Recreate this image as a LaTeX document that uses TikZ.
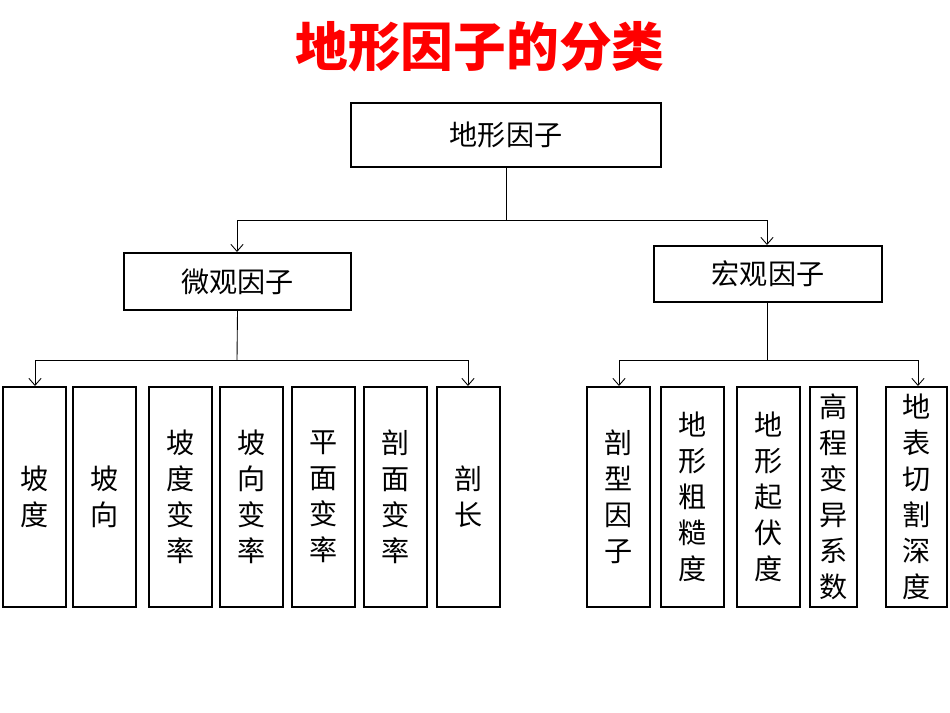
\documentclass[tikz,border=0pt]{standalone}
\usepackage{fontspec}
\newfontfamily\cjk{Noto Sans CJK SC}
\usetikzlibrary{arrows.meta}
\begin{document}
\begin{tikzpicture}[x=0.02cm,y=-0.02cm,
 box/.style={draw,line width=1.3pt,inner sep=0pt,font=\cjk\fontsize{16}{16}\selectfont},
 leaf/.style={draw,line width=1.3pt,inner sep=0pt,align=center,font=\cjk\fontsize{16}{20.5}\selectfont},
 con/.style={line width=0.5pt},
 arr/.style={con,-{Straight Barb[length=4pt,width=7pt]}}]
\useasboundingbox (0,0) rectangle (950,713);
\node[font=\cjk\bfseries\fontsize{30}{30}\selectfont,text=red] (title) at (480,47) {地形因子的分类};
\newcommand\bx[6]{\node[#6,minimum width=#4*0.02cm-1.3pt,minimum height=#5*0.02cm-1.3pt] (#1) at (#2,#3)}
\bx{top}{506}{135}{312}{66}{box} {地形因子};
\bx{mic}{237.5}{281.5}{229}{59}{box} {微观因子};
\bx{mac}{768}{274}{230}{58}{box} {宏观因子};
\bx{a1}{34.5}{497}{65}{222}{leaf} {坡\\度};
\bx{a2}{104.5}{497}{65}{222}{leaf} {坡\\向};
\bx{a3}{180.5}{497}{65}{222}{leaf} {坡\\度\\变\\率};
\bx{a4}{251.5}{497}{65}{222}{leaf} {坡\\向\\变\\率};
\bx{a5}{323.5}{497}{65}{222}{leaf} {平\\面\\变\\率};
\bx{a6}{395.5}{497}{65}{222}{leaf} {剖\\面\\变\\率};
\bx{a7}{468.5}{497}{65}{222}{leaf} {剖\\长};
\bx{b1}{618.5}{497}{65}{222}{leaf} {剖\\型\\因\\子};
\bx{b2}{692.5}{497}{65}{222}{leaf} {地\\形\\粗\\糙\\度};
\bx{b3}{768.5}{497}{65}{222}{leaf} {地\\形\\起\\伏\\度};
\bx{b4}{833.5}{497}{49}{222}{leaf} {高\\程\\变\\异\\系\\数};
\bx{b5}{916.5}{497}{63}{222}{leaf} {地\\表\\切\\割\\深\\度};
\coordinate (t1) at (506,220);
\coordinate (t2) at (237,220);
\coordinate (t3) at (767,220);
\draw[con] (top.south) -- (t1);
\draw[con] (t2) -- (t3);
\draw[arr] (t2) -- (mic.north-|t2);
\draw[arr] (t3) -- (mac.north-|t3);
\coordinate (m1) at (237,360);
\coordinate (m2) at (35,360);
\coordinate (m3) at (468,360);
\draw[con] (mic.south) -- (m1);
\draw[con] (m2) -- (m3);
\draw[arr] (m2) -- (a1.north-|m2);
\draw[arr] (m3) -- (a7.north-|m3);
\coordinate (n1) at (767,360);
\coordinate (n2) at (619,360);
\coordinate (n3) at (918,360);
\draw[con] (mac.south-|n1) -- (n1);
\draw[con] (n2) -- (n3);
\draw[arr] (n2) -- (b1.north-|n2);
\draw[arr] (n3) -- (b5.north-|n3);
\end{tikzpicture}
\end{document}
